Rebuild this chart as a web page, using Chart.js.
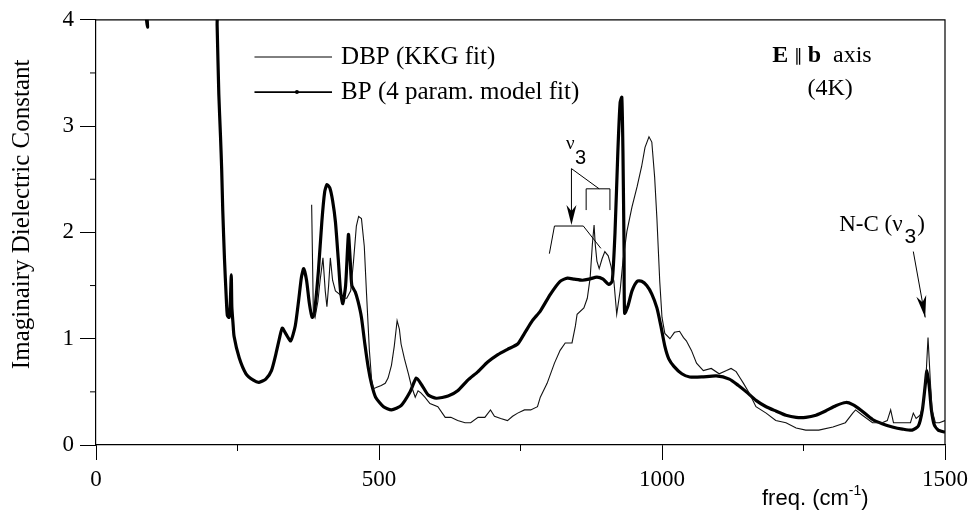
<!DOCTYPE html>
<html>
<head>
<meta charset="utf-8">
<script src="https://cdn.jsdelivr.net/npm/chart.js@4.4.1/dist/chart.umd.min.js"></script>
<style>
  body { margin: 0; background: #fff; }
</style>
</head>
<body>
<canvas id="dielectricChart" width="974" height="518"></canvas>
<script>
// axis ticks
const xTicks = [0, 500, 1000, 1500];
const xMinor = [250, 750, 1250];
const yTicks = [0, 1, 2, 3, 4];
const yMinor = [0.5, 1.5, 2.5, 3.5];

// DBP (KKG fit) - thin line
const dbpX = [381, 384, 387, 392, 396, 401, 405, 408, 411, 414, 418, 423, 430, 437, 443, 450, 455, 460, 464, 469,
  474, 478, 483, 487, 490, 495, 504, 511, 516, 522, 527, 532, 536, 539, 545, 552, 557, 564, 569, 574,
  581, 590, 604, 617, 627, 639, 652, 662, 675, 687, 697, 704, 715, 727, 736, 745, 757, 768, 780, 785,
  797, 810, 820, 829, 841, 847, 850, 862, 868, 873, 877, 880, 882, 885, 889, 894, 899, 905, 910, 915,
  920, 926, 931, 938, 947, 956, 964, 970, 977, 982, 987, 991, 996, 1000, 1005, 1014, 1022, 1031, 1038, 1043,
  1052, 1061, 1073, 1087, 1101, 1114, 1122, 1131, 1138, 1144, 1154, 1166, 1184, 1201, 1219, 1237, 1254, 1277, 1302, 1324,
  1337, 1342, 1354, 1372, 1389, 1398, 1404, 1409, 1425, 1439, 1444, 1449, 1456, 1461, 1467, 1470, 1474, 1477, 1483, 1490,
  1500];
const dbpY = [2.26, 1.25, 1.2, 1.35, 1.55, 1.76, 1.45, 1.3, 1.5, 1.76, 1.55, 1.45, 1.42, 1.38, 1.38, 1.45, 1.73, 2.06, 2.15, 2.13,
  1.87, 1.42, 0.89, 0.61, 0.53, 0.54, 0.56, 0.58, 0.63, 0.75, 0.93, 1.17, 1.09, 0.95, 0.81, 0.67, 0.56, 0.45, 0.51, 0.49,
  0.45, 0.39, 0.36, 0.26, 0.26, 0.23, 0.21, 0.21, 0.26, 0.26, 0.33, 0.27, 0.25, 0.23, 0.27, 0.30, 0.33, 0.33, 0.36, 0.45,
  0.58, 0.77, 0.89, 0.96, 0.96, 1.12, 1.23, 1.29, 1.38, 1.57, 1.89, 2.07, 1.89, 1.73, 1.66, 1.75, 1.82, 1.78, 1.68, 1.54,
  1.23, 1.45, 1.73, 2.01, 2.24, 2.43, 2.62, 2.80, 2.90, 2.85, 2.52, 2.13, 1.54, 1.20, 1.05, 1.00, 1.06, 1.07, 1.01, 0.98,
  0.89, 0.77, 0.70, 0.72, 0.67, 0.70, 0.72, 0.69, 0.63, 0.58, 0.49, 0.36, 0.30, 0.23, 0.21, 0.16, 0.14, 0.14, 0.17, 0.21,
  0.30, 0.33, 0.28, 0.21, 0.21, 0.23, 0.33, 0.21, 0.21, 0.21, 0.30, 0.25, 0.28, 0.37, 0.70, 1.01, 0.61, 0.33, 0.21, 0.21,
  0.23];

// BP (4 param. model fit) - thick line
const bpX = [80, 91, 93, 211, 214, 217, 220, 222, 224, 227, 230, 232, 235, 237, 239, 240, 242, 244, 253, 265,
  278, 288, 300, 310, 318, 324, 329, 336, 344, 352, 358, 363, 367, 372, 377, 382, 386, 393, 399, 404,
  408, 413, 418, 423, 428, 432, 436, 441, 446, 449, 452, 458, 463, 469, 475, 481, 487, 494, 508, 522,
  539, 555, 566, 576, 587, 601, 622, 639, 657, 675, 692, 710, 727, 745, 757, 771, 785, 803, 820, 833,
  845, 859, 871, 885, 896, 906, 912, 917, 922, 926, 929, 931, 933, 934, 940, 947, 956, 964, 973, 982,
  991, 998, 1005, 1012, 1021, 1035, 1049, 1070, 1096, 1119, 1135, 1149, 1166, 1184, 1201, 1219, 1237, 1254, 1272, 1289,
  1307, 1325, 1337, 1351, 1372, 1389, 1407, 1425, 1442, 1453, 1460, 1465, 1468, 1472, 1476, 1481, 1488, 1500];
const bpY = [4.6, 3.93, 4.6, 4.6, 3.95, 3.3, 2.9, 2.6, 2.2, 1.75, 1.4, 1.22, 1.2, 1.3, 1.6, 1.3, 1.15, 1.02, 0.82, 0.67,
  0.61, 0.59, 0.62, 0.70, 0.86, 1.00, 1.10, 1.04, 0.98, 1.12, 1.36, 1.58, 1.66, 1.55, 1.33, 1.20, 1.25, 1.64, 2.10, 2.38,
  2.45, 2.42, 2.30, 2.10, 1.75, 1.45, 1.33, 1.50, 1.98, 1.75, 1.50, 1.44, 1.35, 1.20, 0.95, 0.73, 0.57, 0.45, 0.36, 0.33,
  0.37, 0.50, 0.63, 0.56, 0.47, 0.44, 0.46, 0.51, 0.61, 0.69, 0.78, 0.85, 0.90, 0.95, 1.05, 1.17, 1.26, 1.42, 1.54, 1.57,
  1.56, 1.55, 1.56, 1.58, 1.56, 1.51, 1.54, 2.00, 2.76, 3.22, 3.27, 2.76, 1.82, 1.24, 1.31, 1.45, 1.54, 1.54, 1.50, 1.42,
  1.29, 1.12, 0.93, 0.81, 0.74, 0.67, 0.64, 0.64, 0.65, 0.62, 0.56, 0.50, 0.42, 0.36, 0.32, 0.28, 0.26, 0.26, 0.28, 0.32,
  0.37, 0.40, 0.38, 0.33, 0.24, 0.20, 0.17, 0.15, 0.14, 0.18, 0.33, 0.56, 0.70, 0.56, 0.33, 0.19, 0.14, 0.12];

const SERIF = '"Liberation Serif", "Times New Roman", serif';
const SANS = '"Liberation Sans", Arial, sans-serif';

function toPoints(xs, ys) {
  return xs.map(function (x, i) { return { x: x, y: ys[i] }; });
}

function arrowHead(ctx, x0, y0, x1, y1, len, half) {
  const a = Math.atan2(y1 - y0, x1 - x0);
  const bx = x1 - len * Math.cos(a), by = y1 - len * Math.sin(a);
  const nx = -Math.sin(a) * half, ny = Math.cos(a) * half;
  const mx = x1 - len * 0.7 * Math.cos(a), my = y1 - len * 0.7 * Math.sin(a);
  ctx.beginPath();
  ctx.moveTo(x1, y1);
  ctx.lineTo(bx + nx, by + ny);
  ctx.lineTo(mx, my);
  ctx.lineTo(bx - nx, by - ny);
  ctx.closePath();
  ctx.fill();
}

const decorPlugin = {
  id: 'decor',
  afterDraw: function (chart) {
    const ctx = chart.ctx;
    const area = chart.chartArea;
    const xs = chart.scales.x, ys = chart.scales.y;
    const px = function (v) { return xs.getPixelForValue(v); };
    const py = function (v) { return ys.getPixelForValue(v); };
    ctx.save();
    ctx.strokeStyle = '#000';
    ctx.fillStyle = '#000';

    // top and right frame
    ctx.lineWidth = 1.2;
    ctx.beginPath();
    ctx.moveTo(area.left, area.top);
    ctx.lineTo(area.right, area.top);
    ctx.lineTo(area.right, area.bottom);
    ctx.stroke();

    // minor ticks
    ctx.lineWidth = 1;
    ctx.beginPath();
    xMinor.forEach(function (v) {
      ctx.moveTo(px(v), area.bottom);
      ctx.lineTo(px(v), area.bottom + 6);
    });
    yMinor.forEach(function (v) {
      ctx.moveTo(area.left, py(v));
      ctx.lineTo(area.left - 6, py(v));
    });
    ctx.stroke();

    // legend
    ctx.lineWidth = 1;
    ctx.beginPath();
    ctx.moveTo(px(280), py(3.65));
    ctx.lineTo(px(417), py(3.65));
    ctx.stroke();
    ctx.lineWidth = 1.6;
    ctx.beginPath();
    ctx.moveTo(px(280), py(3.32));
    ctx.lineTo(px(417), py(3.32));
    ctx.stroke();
    ctx.beginPath();
    ctx.arc(px(355), py(3.32), 2, 0, Math.PI * 2);
    ctx.fill();
    ctx.font = '25px ' + SERIF;
    ctx.textAlign = 'left';
    ctx.textBaseline = 'middle';
    ctx.fillText('DBP (KKG fit)', px(433), py(3.65));
    ctx.fillText('BP (4 param. model fit)', px(433), py(3.32));

    // E || b axis (4K)
    let x0 = px(1195);
    const yE = py(3.66);
    ctx.font = 'bold 24px ' + SERIF;
    ctx.fillText('E', x0, yE);
    x0 += ctx.measureText('E ').width;
    ctx.font = '17px ' + SERIF;
    ctx.fillText('\u2225', x0, yE + 1);
    x0 += ctx.measureText('\u2225 ').width;
    ctx.font = 'bold 24px ' + SERIF;
    ctx.fillText('b', x0, yE);
    x0 += ctx.measureText('b  ').width;
    ctx.font = '24px ' + SERIF;
    ctx.fillText('axis', x0, yE);
    ctx.textAlign = 'center';
    ctx.fillText('(4K)', px(1297), py(3.35));

    // N-C (nu 3) label and arrow
    ctx.textAlign = 'left';
    x0 = px(1313);
    const yN = py(2.07);
    ctx.font = '23px ' + SERIF;
    ctx.fillText('N-C (\u03bd', x0, yN);
    x0 += ctx.measureText('N-C (\u03bd').width + 2;
    ctx.font = '21px ' + SANS;
    ctx.fillText('3', x0, yN + 12);
    x0 += ctx.measureText('3').width + 1;
    ctx.font = '23px ' + SERIF;
    ctx.fillText(')', x0, yN);
    ctx.lineWidth = 1;
    ctx.beginPath();
    ctx.moveTo(px(1444), py(1.82));
    ctx.lineTo(px(1465), py(1.20));
    ctx.stroke();
    arrowHead(ctx, px(1444), py(1.82), px(1465), py(1.20), 22, 5);

    // nu 3 annotation near 850 cm-1
    ctx.font = '19px ' + SERIF;
    ctx.textAlign = 'center';
    ctx.fillText('\u03bd', px(838), py(2.83));
    ctx.font = '20px ' + SANS;
    ctx.fillText('3', px(856), py(2.70));
    ctx.lineWidth = 1;
    ctx.beginPath();
    ctx.moveTo(px(840), py(2.60));
    ctx.lineTo(px(840), py(2.12));
    ctx.moveTo(px(840), py(2.60));
    ctx.lineTo(px(889), py(2.41));
    ctx.moveTo(px(866), py(2.21));
    ctx.lineTo(px(866), py(2.41));
    ctx.lineTo(px(908), py(2.41));
    ctx.lineTo(px(908), py(2.21));
    ctx.moveTo(px(801), py(1.80));
    ctx.lineTo(px(810), py(2.06));
    ctx.lineTo(px(861), py(2.06));
    ctx.lineTo(px(892), py(1.85));
    ctx.stroke();
    arrowHead(ctx, px(840), py(2.40), px(840), py(2.07), 20, 5);

    // x axis title
    let xt = 762;
    ctx.font = '22px ' + SANS;
    ctx.textAlign = 'left';
    ctx.textBaseline = 'middle';
    ctx.fillText('freq. (cm', xt, 499);
    xt += ctx.measureText('freq. (cm').width;
    ctx.font = '14px ' + SANS;
    ctx.fillText('-1', xt, 491);
    xt += ctx.measureText('-1').width;
    ctx.font = '22px ' + SANS;
    ctx.fillText(')', xt, 499);

    // y axis title
    ctx.translate(22, py(2.17));
    ctx.rotate(-Math.PI / 2);
    ctx.font = '25px ' + SERIF;
    ctx.textAlign = 'center';
    ctx.fillText('Imaginairy Dielectric Constant', 0, 0);
    ctx.restore();
  },
};

const dielectricChart = new Chart(document.getElementById('dielectricChart'), {
  type: 'scatter',
  data: {
    datasets: [
      {
        label: 'DBP (KKG fit)',
        data: toPoints(dbpX, dbpY),
        showLine: true,
        borderColor: '#111',
        borderWidth: 1.1,
        pointRadius: 0,
        tension: 0,
      },
      {
        label: 'BP (4 param. model fit)',
        data: toPoints(bpX, bpY),
        showLine: true,
        borderColor: '#000',
        borderWidth: 3.2,
        pointRadius: 0,
        tension: 0.2,
      },
    ],
  },
  options: {
    responsive: false,
    animation: false,
    devicePixelRatio: 1,
    layout: { padding: { top: 16, right: 25, left: 0, bottom: 0 } },
    plugins: {
      legend: { display: false },
      tooltip: { enabled: false },
    },
    scales: {
      x: {
        type: 'linear',
        min: 0,
        max: 1500,
        afterBuildTicks: function (scale) {
          scale.ticks = xTicks.map(function (v) { return { value: v }; });
        },
        afterFit: function (scale) { scale.height = 73; },
        grid: { drawOnChartArea: false, drawTicks: true, tickLength: 15, color: '#000', lineWidth: 1 },
        border: { display: true, color: '#000', width: 1.2 },
        ticks: {
          color: '#000',
          font: { family: SERIF, size: 23 },
          padding: 6,
          maxRotation: 0,
          callback: function (value) { return String(value); },
        },
      },
      y: {
        type: 'linear',
        min: 0,
        max: 4,
        afterBuildTicks: function (scale) {
          scale.ticks = yTicks.map(function (v) { return { value: v }; });
        },
        afterFit: function (scale) { scale.width = 96; },
        grid: { drawOnChartArea: false, drawTicks: true, tickLength: 16, color: '#000', lineWidth: 1 },
        border: { display: true, color: '#000', width: 1.2 },
        ticks: {
          color: '#000',
          font: { family: SERIF, size: 23 },
          padding: 6,
          callback: function (value) { return String(value); },
        },
      },
    },
  },
  plugins: [decorPlugin],
});
</script>
</body>
</html>
